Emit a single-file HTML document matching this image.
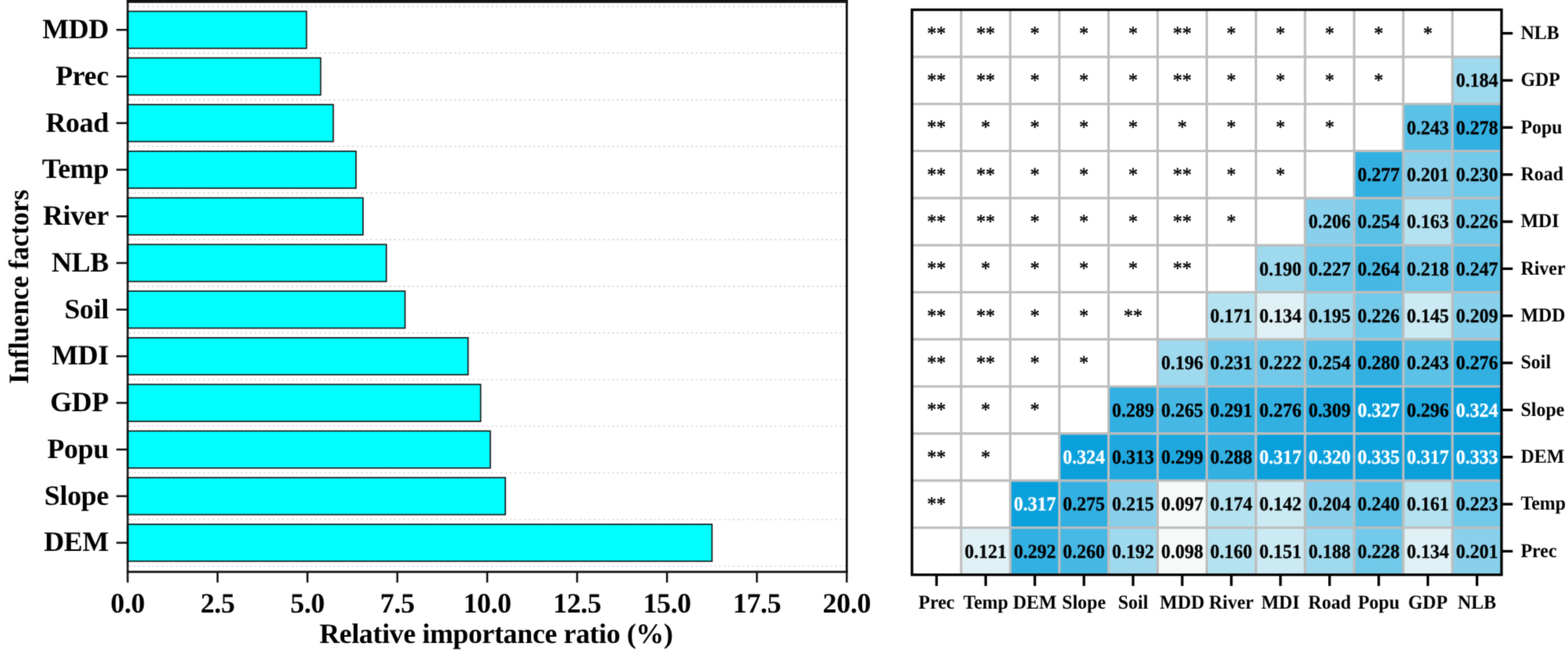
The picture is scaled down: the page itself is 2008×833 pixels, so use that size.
<!DOCTYPE html>
<html lang="en">
<head>
<meta charset="utf-8">
<title>Relative importance ratio and interaction of influence factors</title>
<style>
html, body { margin: 0; padding: 0; background: #ffffff; }
body { width: 2008px; height: 833px; overflow: hidden; }
svg { display: block; }
text { text-rendering: geometricPrecision; }
</style>
</head>
<body>
<svg width="2008" height="833" viewBox="0 0 2008 833">
<defs><filter id="soft" x="0" y="0" width="2008" height="833" filterUnits="userSpaceOnUse" color-interpolation-filters="sRGB"><feConvolveMatrix order="3" kernelMatrix="1 4 1 4 20 4 1 4 1" divisor="40" bias="0" edgeMode="duplicate" preserveAlpha="true"/></filter></defs>
<g filter="url(#soft)">
<rect x="-20" y="-20" width="2048" height="873" fill="#ffffff"/>
<g stroke="#dadada" stroke-width="1.6" stroke-dasharray="2.6 3.35" fill="none">
<line x1="165.00" y1="8.35" x2="1082.90" y2="8.35"/>
<line x1="165.00" y1="68.11" x2="1082.90" y2="68.11"/>
<line x1="165.00" y1="127.87" x2="1082.90" y2="127.87"/>
<line x1="165.00" y1="187.63" x2="1082.90" y2="187.63"/>
<line x1="165.00" y1="247.39" x2="1082.90" y2="247.39"/>
<line x1="165.00" y1="307.15" x2="1082.90" y2="307.15"/>
<line x1="165.00" y1="366.91" x2="1082.90" y2="366.91"/>
<line x1="165.00" y1="426.67" x2="1082.90" y2="426.67"/>
<line x1="165.00" y1="486.43" x2="1082.90" y2="486.43"/>
<line x1="165.00" y1="546.19" x2="1082.90" y2="546.19"/>
<line x1="165.00" y1="605.95" x2="1082.90" y2="605.95"/>
<line x1="165.00" y1="665.71" x2="1082.90" y2="665.71"/>
<line x1="165.00" y1="725.47" x2="1082.90" y2="725.47"/>
</g>
<g fill="#00ffff" stroke="#1c1c1c" stroke-width="1.7" stroke-linejoin="miter">
<rect x="163.50" y="14.53" width="229.05" height="47.40"/>
<rect x="163.50" y="74.29" width="247.15" height="47.40"/>
<rect x="163.50" y="134.05" width="263.25" height="47.40"/>
<rect x="163.50" y="193.81" width="292.35" height="47.40"/>
<rect x="163.50" y="253.57" width="301.35" height="47.40"/>
<rect x="163.50" y="313.33" width="331.25" height="47.40"/>
<rect x="163.50" y="373.09" width="355.15" height="47.40"/>
<rect x="163.50" y="432.85" width="435.95" height="47.40"/>
<rect x="163.50" y="492.61" width="452.05" height="47.40"/>
<rect x="163.50" y="552.37" width="464.35" height="47.40"/>
<rect x="163.50" y="612.13" width="483.65" height="47.40"/>
<rect x="163.50" y="671.89" width="748.25" height="47.40"/>
</g>
<g stroke="#111111" fill="none" stroke-linecap="butt">
<line x1="162.25" y1="1.9" x2="1085.8000000000002" y2="1.9" stroke-width="3.8"/>
<line x1="162.25" y1="732.8" x2="1085.8000000000002" y2="732.8" stroke-width="2.7"/>
<line x1="163.5" y1="1" x2="163.5" y2="732.8" stroke-width="2.5"/>
<line x1="1084.4" y1="1" x2="1084.4" y2="732.8" stroke-width="2.8"/>
</g>
<g stroke="#111111" stroke-width="2.5" fill="none">
<line x1="149" y1="38.23" x2="163.5" y2="38.23"/>
<line x1="149" y1="97.99" x2="163.5" y2="97.99"/>
<line x1="149" y1="157.75" x2="163.5" y2="157.75"/>
<line x1="149" y1="217.51" x2="163.5" y2="217.51"/>
<line x1="149" y1="277.27" x2="163.5" y2="277.27"/>
<line x1="149" y1="337.03" x2="163.5" y2="337.03"/>
<line x1="149" y1="396.79" x2="163.5" y2="396.79"/>
<line x1="149" y1="456.55" x2="163.5" y2="456.55"/>
<line x1="149" y1="516.31" x2="163.5" y2="516.31"/>
<line x1="149" y1="576.07" x2="163.5" y2="576.07"/>
<line x1="149" y1="635.83" x2="163.5" y2="635.83"/>
<line x1="149" y1="695.59" x2="163.5" y2="695.59"/>
<line x1="163.50" y1="732.8" x2="163.50" y2="746.6"/>
<line x1="278.61" y1="732.8" x2="278.61" y2="746.6"/>
<line x1="393.73" y1="732.8" x2="393.73" y2="746.6"/>
<line x1="508.84" y1="732.8" x2="508.84" y2="746.6"/>
<line x1="623.95" y1="732.8" x2="623.95" y2="746.6"/>
<line x1="739.06" y1="732.8" x2="739.06" y2="746.6"/>
<line x1="854.18" y1="732.8" x2="854.18" y2="746.6"/>
<line x1="969.29" y1="732.8" x2="969.29" y2="746.6"/>
<line x1="1084.40" y1="732.8" x2="1084.40" y2="746.6"/>
</g>
<g font-family="'Liberation Serif', serif" font-weight="bold" fill="#000000" letter-spacing="-0.35">
<g font-size="36" text-anchor="end">
<text x="139.1" y="49.03">MDD</text>
<text x="139.1" y="108.79">Prec</text>
<text x="139.1" y="168.55">Road</text>
<text x="139.1" y="228.31">Temp</text>
<text x="139.1" y="288.07">River</text>
<text x="139.1" y="347.83">NLB</text>
<text x="139.1" y="407.59">Soil</text>
<text x="139.1" y="467.35">MDI</text>
<text x="139.1" y="527.11">GDP</text>
<text x="139.1" y="586.87">Popu</text>
<text x="139.1" y="646.63">Slope</text>
<text x="139.1" y="706.39">DEM</text>
</g>
<g font-size="36" text-anchor="middle">
<text x="163.50" y="784.8">0.0</text>
<text x="278.61" y="784.8">2.5</text>
<text x="393.73" y="784.8">5.0</text>
<text x="508.84" y="784.8">7.5</text>
<text x="623.95" y="784.8">10.0</text>
<text x="739.06" y="784.8">12.5</text>
<text x="854.18" y="784.8">15.0</text>
<text x="969.29" y="784.8">17.5</text>
<text x="1084.40" y="784.8">20.0</text>
</g>
<text x="635.3" y="823.9" font-size="36" text-anchor="middle">Relative importance ratio (%)</text>
<text transform="translate(36.0 367.6) rotate(-90)" font-size="36" text-anchor="middle" letter-spacing="0" textLength="249" lengthAdjust="spacingAndGlyphs">Influence factors</text>
</g>
<g shape-rendering="crispEdges">
<rect x="1859.98" y="72.84" width="62.92" height="60.34" fill="#9fd9ee"/>
<rect x="1797.07" y="133.18" width="62.92" height="60.34" fill="#5cc1e7"/>
<rect x="1859.98" y="133.18" width="62.92" height="60.34" fill="#33b0e2"/>
<rect x="1734.15" y="193.53" width="62.92" height="60.34" fill="#33b0e2"/>
<rect x="1797.07" y="193.53" width="62.92" height="60.34" fill="#88d0eb"/>
<rect x="1859.98" y="193.53" width="62.92" height="60.34" fill="#72c9e9"/>
<rect x="1671.23" y="253.87" width="62.92" height="60.34" fill="#88d0eb"/>
<rect x="1734.15" y="253.87" width="62.92" height="60.34" fill="#5cc1e7"/>
<rect x="1797.07" y="253.87" width="62.92" height="60.34" fill="#b5e2f0"/>
<rect x="1859.98" y="253.87" width="62.92" height="60.34" fill="#72c9e9"/>
<rect x="1608.32" y="314.21" width="62.92" height="60.34" fill="#9fd9ee"/>
<rect x="1671.23" y="314.21" width="62.92" height="60.34" fill="#72c9e9"/>
<rect x="1734.15" y="314.21" width="62.92" height="60.34" fill="#47b8e4"/>
<rect x="1797.07" y="314.21" width="62.92" height="60.34" fill="#72c9e9"/>
<rect x="1859.98" y="314.21" width="62.92" height="60.34" fill="#5cc1e7"/>
<rect x="1545.40" y="374.55" width="62.92" height="60.34" fill="#b5e2f0"/>
<rect x="1608.32" y="374.55" width="62.92" height="60.34" fill="#dff1f5"/>
<rect x="1671.23" y="374.55" width="62.92" height="60.34" fill="#9fd9ee"/>
<rect x="1734.15" y="374.55" width="62.92" height="60.34" fill="#72c9e9"/>
<rect x="1797.07" y="374.55" width="62.92" height="60.34" fill="#cbeaf3"/>
<rect x="1859.98" y="374.55" width="62.92" height="60.34" fill="#88d0eb"/>
<rect x="1482.48" y="434.89" width="62.92" height="60.34" fill="#9fd9ee"/>
<rect x="1545.40" y="434.89" width="62.92" height="60.34" fill="#72c9e9"/>
<rect x="1608.32" y="434.89" width="62.92" height="60.34" fill="#72c9e9"/>
<rect x="1671.23" y="434.89" width="62.92" height="60.34" fill="#5cc1e7"/>
<rect x="1734.15" y="434.89" width="62.92" height="60.34" fill="#33b0e2"/>
<rect x="1797.07" y="434.89" width="62.92" height="60.34" fill="#5cc1e7"/>
<rect x="1859.98" y="434.89" width="62.92" height="60.34" fill="#33b0e2"/>
<rect x="1419.57" y="495.23" width="62.92" height="60.34" fill="#33b0e2"/>
<rect x="1482.48" y="495.23" width="62.92" height="60.34" fill="#47b8e4"/>
<rect x="1545.40" y="495.23" width="62.92" height="60.34" fill="#33b0e2"/>
<rect x="1608.32" y="495.23" width="62.92" height="60.34" fill="#33b0e2"/>
<rect x="1671.23" y="495.23" width="62.92" height="60.34" fill="#1ea8df"/>
<rect x="1734.15" y="495.23" width="62.92" height="60.34" fill="#0aa0dc"/>
<rect x="1797.07" y="495.23" width="62.92" height="60.34" fill="#1ea8df"/>
<rect x="1859.98" y="495.23" width="62.92" height="60.34" fill="#0aa0dc"/>
<rect x="1356.65" y="555.58" width="62.92" height="60.34" fill="#0aa0dc"/>
<rect x="1419.57" y="555.58" width="62.92" height="60.34" fill="#1ea8df"/>
<rect x="1482.48" y="555.58" width="62.92" height="60.34" fill="#1ea8df"/>
<rect x="1545.40" y="555.58" width="62.92" height="60.34" fill="#33b0e2"/>
<rect x="1608.32" y="555.58" width="62.92" height="60.34" fill="#0aa0dc"/>
<rect x="1671.23" y="555.58" width="62.92" height="60.34" fill="#0aa0dc"/>
<rect x="1734.15" y="555.58" width="62.92" height="60.34" fill="#0aa0dc"/>
<rect x="1797.07" y="555.58" width="62.92" height="60.34" fill="#0aa0dc"/>
<rect x="1859.98" y="555.58" width="62.92" height="60.34" fill="#0aa0dc"/>
<rect x="1293.73" y="615.92" width="62.92" height="60.34" fill="#0aa0dc"/>
<rect x="1356.65" y="615.92" width="62.92" height="60.34" fill="#33b0e2"/>
<rect x="1419.57" y="615.92" width="62.92" height="60.34" fill="#88d0eb"/>
<rect x="1482.48" y="615.92" width="62.92" height="60.34" fill="#f5f9f7"/>
<rect x="1545.40" y="615.92" width="62.92" height="60.34" fill="#b5e2f0"/>
<rect x="1608.32" y="615.92" width="62.92" height="60.34" fill="#cbeaf3"/>
<rect x="1671.23" y="615.92" width="62.92" height="60.34" fill="#88d0eb"/>
<rect x="1734.15" y="615.92" width="62.92" height="60.34" fill="#5cc1e7"/>
<rect x="1797.07" y="615.92" width="62.92" height="60.34" fill="#b5e2f0"/>
<rect x="1859.98" y="615.92" width="62.92" height="60.34" fill="#72c9e9"/>
<rect x="1230.82" y="676.26" width="62.92" height="60.34" fill="#dff1f5"/>
<rect x="1293.73" y="676.26" width="62.92" height="60.34" fill="#33b0e2"/>
<rect x="1356.65" y="676.26" width="62.92" height="60.34" fill="#47b8e4"/>
<rect x="1419.57" y="676.26" width="62.92" height="60.34" fill="#9fd9ee"/>
<rect x="1482.48" y="676.26" width="62.92" height="60.34" fill="#f5f9f7"/>
<rect x="1545.40" y="676.26" width="62.92" height="60.34" fill="#b5e2f0"/>
<rect x="1608.32" y="676.26" width="62.92" height="60.34" fill="#cbeaf3"/>
<rect x="1671.23" y="676.26" width="62.92" height="60.34" fill="#9fd9ee"/>
<rect x="1734.15" y="676.26" width="62.92" height="60.34" fill="#72c9e9"/>
<rect x="1797.07" y="676.26" width="62.92" height="60.34" fill="#dff1f5"/>
<rect x="1859.98" y="676.26" width="62.92" height="60.34" fill="#88d0eb"/>
</g>
<g stroke="#bdbdbd" stroke-width="3.1" fill="none">
<line x1="1230.82" y1="12.5" x2="1230.82" y2="736.6"/>
<line x1="1167.9" y1="72.84" x2="1922.9" y2="72.84"/>
<line x1="1293.73" y1="12.5" x2="1293.73" y2="736.6"/>
<line x1="1167.9" y1="133.18" x2="1922.9" y2="133.18"/>
<line x1="1356.65" y1="12.5" x2="1356.65" y2="736.6"/>
<line x1="1167.9" y1="193.53" x2="1922.9" y2="193.53"/>
<line x1="1419.57" y1="12.5" x2="1419.57" y2="736.6"/>
<line x1="1167.9" y1="253.87" x2="1922.9" y2="253.87"/>
<line x1="1482.48" y1="12.5" x2="1482.48" y2="736.6"/>
<line x1="1167.9" y1="314.21" x2="1922.9" y2="314.21"/>
<line x1="1545.40" y1="12.5" x2="1545.40" y2="736.6"/>
<line x1="1167.9" y1="374.55" x2="1922.9" y2="374.55"/>
<line x1="1608.32" y1="12.5" x2="1608.32" y2="736.6"/>
<line x1="1167.9" y1="434.89" x2="1922.9" y2="434.89"/>
<line x1="1671.23" y1="12.5" x2="1671.23" y2="736.6"/>
<line x1="1167.9" y1="495.23" x2="1922.9" y2="495.23"/>
<line x1="1734.15" y1="12.5" x2="1734.15" y2="736.6"/>
<line x1="1167.9" y1="555.58" x2="1922.9" y2="555.58"/>
<line x1="1797.07" y1="12.5" x2="1797.07" y2="736.6"/>
<line x1="1167.9" y1="615.92" x2="1922.9" y2="615.92"/>
<line x1="1859.98" y1="12.5" x2="1859.98" y2="736.6"/>
<line x1="1167.9" y1="676.26" x2="1922.9" y2="676.26"/>
</g>
<rect x="1167.9" y="12.5" width="755.0" height="724.1" fill="none" stroke="#000000" stroke-width="3.3"/>
<g stroke="#000000" stroke-width="3.3" fill="none">
<line x1="1199.36" y1="736.6" x2="1199.36" y2="750.9"/>
<line x1="1922.9" y1="42.67" x2="1937.2" y2="42.67"/>
<line x1="1262.28" y1="736.6" x2="1262.28" y2="750.9"/>
<line x1="1922.9" y1="103.01" x2="1937.2" y2="103.01"/>
<line x1="1325.19" y1="736.6" x2="1325.19" y2="750.9"/>
<line x1="1922.9" y1="163.35" x2="1937.2" y2="163.35"/>
<line x1="1388.11" y1="736.6" x2="1388.11" y2="750.9"/>
<line x1="1922.9" y1="223.70" x2="1937.2" y2="223.70"/>
<line x1="1451.03" y1="736.6" x2="1451.03" y2="750.9"/>
<line x1="1922.9" y1="284.04" x2="1937.2" y2="284.04"/>
<line x1="1513.94" y1="736.6" x2="1513.94" y2="750.9"/>
<line x1="1922.9" y1="344.38" x2="1937.2" y2="344.38"/>
<line x1="1576.86" y1="736.6" x2="1576.86" y2="750.9"/>
<line x1="1922.9" y1="404.72" x2="1937.2" y2="404.72"/>
<line x1="1639.78" y1="736.6" x2="1639.78" y2="750.9"/>
<line x1="1922.9" y1="465.06" x2="1937.2" y2="465.06"/>
<line x1="1702.69" y1="736.6" x2="1702.69" y2="750.9"/>
<line x1="1922.9" y1="525.40" x2="1937.2" y2="525.40"/>
<line x1="1765.61" y1="736.6" x2="1765.61" y2="750.9"/>
<line x1="1922.9" y1="585.75" x2="1937.2" y2="585.75"/>
<line x1="1828.53" y1="736.6" x2="1828.53" y2="750.9"/>
<line x1="1922.9" y1="646.09" x2="1937.2" y2="646.09"/>
<line x1="1891.44" y1="736.6" x2="1891.44" y2="750.9"/>
<line x1="1922.9" y1="706.43" x2="1937.2" y2="706.43"/>
</g>
<g font-family="'Liberation Serif', serif" fill="#000000" font-size="25.2" transform="scale(0.952 1)">
<g font-weight="bold" text-anchor="middle" stroke="#000000" stroke-width="0.3">
<text x="1986.81" y="111.31">0.184</text>
<text x="1920.72" y="171.65">0.243</text>
<text x="1986.81" y="171.65">0.278</text>
<text x="1854.63" y="232.00">0.277</text>
<text x="1920.72" y="232.00">0.201</text>
<text x="1986.81" y="232.00">0.230</text>
<text x="1788.54" y="292.34">0.206</text>
<text x="1854.63" y="292.34">0.254</text>
<text x="1920.72" y="292.34">0.163</text>
<text x="1986.81" y="292.34">0.226</text>
<text x="1722.45" y="352.68">0.190</text>
<text x="1788.54" y="352.68">0.227</text>
<text x="1854.63" y="352.68">0.264</text>
<text x="1920.72" y="352.68">0.218</text>
<text x="1986.81" y="352.68">0.247</text>
<text x="1656.36" y="413.02">0.171</text>
<text x="1722.45" y="413.02">0.134</text>
<text x="1788.54" y="413.02">0.195</text>
<text x="1854.63" y="413.02">0.226</text>
<text x="1920.72" y="413.02">0.145</text>
<text x="1986.81" y="413.02">0.209</text>
<text x="1590.27" y="473.36">0.196</text>
<text x="1656.36" y="473.36">0.231</text>
<text x="1722.45" y="473.36">0.222</text>
<text x="1788.54" y="473.36">0.254</text>
<text x="1854.63" y="473.36">0.280</text>
<text x="1920.72" y="473.36">0.243</text>
<text x="1986.81" y="473.36">0.276</text>
<text x="1524.19" y="533.70">0.289</text>
<text x="1590.27" y="533.70">0.265</text>
<text x="1656.36" y="533.70">0.291</text>
<text x="1722.45" y="533.70">0.276</text>
<text x="1788.54" y="533.70">0.309</text>
<text x="1854.63" y="533.70" fill="#ffffff" stroke="#ffffff">0.327</text>
<text x="1920.72" y="533.70">0.296</text>
<text x="1986.81" y="533.70" fill="#ffffff" stroke="#ffffff">0.324</text>
<text x="1458.10" y="594.05" fill="#ffffff" stroke="#ffffff">0.324</text>
<text x="1524.19" y="594.05">0.313</text>
<text x="1590.27" y="594.05">0.299</text>
<text x="1656.36" y="594.05">0.288</text>
<text x="1722.45" y="594.05" fill="#ffffff" stroke="#ffffff">0.317</text>
<text x="1788.54" y="594.05" fill="#ffffff" stroke="#ffffff">0.320</text>
<text x="1854.63" y="594.05" fill="#ffffff" stroke="#ffffff">0.335</text>
<text x="1920.72" y="594.05" fill="#ffffff" stroke="#ffffff">0.317</text>
<text x="1986.81" y="594.05" fill="#ffffff" stroke="#ffffff">0.333</text>
<text x="1392.01" y="654.39" fill="#ffffff" stroke="#ffffff">0.317</text>
<text x="1458.10" y="654.39">0.275</text>
<text x="1524.19" y="654.39">0.215</text>
<text x="1590.27" y="654.39">0.097</text>
<text x="1656.36" y="654.39">0.174</text>
<text x="1722.45" y="654.39">0.142</text>
<text x="1788.54" y="654.39">0.204</text>
<text x="1854.63" y="654.39">0.240</text>
<text x="1920.72" y="654.39">0.161</text>
<text x="1986.81" y="654.39">0.223</text>
<text x="1325.92" y="714.73">0.121</text>
<text x="1392.01" y="714.73">0.292</text>
<text x="1458.10" y="714.73">0.260</text>
<text x="1524.19" y="714.73">0.192</text>
<text x="1590.27" y="714.73">0.098</text>
<text x="1656.36" y="714.73">0.160</text>
<text x="1722.45" y="714.73">0.151</text>
<text x="1788.54" y="714.73">0.188</text>
<text x="1854.63" y="714.73">0.228</text>
<text x="1920.72" y="714.73">0.134</text>
<text x="1986.81" y="714.73">0.201</text>
</g>
<g text-anchor="middle" stroke="#000000" stroke-width="0.5">
<text x="1259.83" y="50.57">**</text>
<text x="1325.92" y="50.57">**</text>
<text x="1392.01" y="50.57">*</text>
<text x="1458.10" y="50.57">*</text>
<text x="1524.19" y="50.57">*</text>
<text x="1590.27" y="50.57">**</text>
<text x="1656.36" y="50.57">*</text>
<text x="1722.45" y="50.57">*</text>
<text x="1788.54" y="50.57">*</text>
<text x="1854.63" y="50.57">*</text>
<text x="1920.72" y="50.57">*</text>
<text x="1259.83" y="110.91">**</text>
<text x="1325.92" y="110.91">**</text>
<text x="1392.01" y="110.91">*</text>
<text x="1458.10" y="110.91">*</text>
<text x="1524.19" y="110.91">*</text>
<text x="1590.27" y="110.91">**</text>
<text x="1656.36" y="110.91">*</text>
<text x="1722.45" y="110.91">*</text>
<text x="1788.54" y="110.91">*</text>
<text x="1854.63" y="110.91">*</text>
<text x="1259.83" y="171.25">**</text>
<text x="1325.92" y="171.25">*</text>
<text x="1392.01" y="171.25">*</text>
<text x="1458.10" y="171.25">*</text>
<text x="1524.19" y="171.25">*</text>
<text x="1590.27" y="171.25">*</text>
<text x="1656.36" y="171.25">*</text>
<text x="1722.45" y="171.25">*</text>
<text x="1788.54" y="171.25">*</text>
<text x="1259.83" y="231.60">**</text>
<text x="1325.92" y="231.60">**</text>
<text x="1392.01" y="231.60">*</text>
<text x="1458.10" y="231.60">*</text>
<text x="1524.19" y="231.60">*</text>
<text x="1590.27" y="231.60">**</text>
<text x="1656.36" y="231.60">*</text>
<text x="1722.45" y="231.60">*</text>
<text x="1259.83" y="291.94">**</text>
<text x="1325.92" y="291.94">**</text>
<text x="1392.01" y="291.94">*</text>
<text x="1458.10" y="291.94">*</text>
<text x="1524.19" y="291.94">*</text>
<text x="1590.27" y="291.94">**</text>
<text x="1656.36" y="291.94">*</text>
<text x="1259.83" y="352.28">**</text>
<text x="1325.92" y="352.28">*</text>
<text x="1392.01" y="352.28">*</text>
<text x="1458.10" y="352.28">*</text>
<text x="1524.19" y="352.28">*</text>
<text x="1590.27" y="352.28">**</text>
<text x="1259.83" y="412.62">**</text>
<text x="1325.92" y="412.62">**</text>
<text x="1392.01" y="412.62">*</text>
<text x="1458.10" y="412.62">*</text>
<text x="1524.19" y="412.62">**</text>
<text x="1259.83" y="472.96">**</text>
<text x="1325.92" y="472.96">**</text>
<text x="1392.01" y="472.96">*</text>
<text x="1458.10" y="472.96">*</text>
<text x="1259.83" y="533.30">**</text>
<text x="1325.92" y="533.30">*</text>
<text x="1392.01" y="533.30">*</text>
<text x="1259.83" y="593.65">**</text>
<text x="1325.92" y="593.65">*</text>
<text x="1259.83" y="653.99">**</text>
</g>
<g font-weight="bold" text-anchor="middle">
<text x="1259.83" y="779.6">Prec</text>
<text x="1325.92" y="779.6">Temp</text>
<text x="1392.01" y="779.6">DEM</text>
<text x="1458.10" y="779.6">Slope</text>
<text x="1524.19" y="779.6">Soil</text>
<text x="1590.27" y="779.6">MDD</text>
<text x="1656.36" y="779.6">River</text>
<text x="1722.45" y="779.6">MDI</text>
<text x="1788.54" y="779.6">Road</text>
<text x="1854.63" y="779.6">Popu</text>
<text x="1920.72" y="779.6">GDP</text>
<text x="1986.81" y="779.6">NLB</text>
</g>
<g font-weight="bold" text-anchor="start">
<text x="2045.59" y="50.07">NLB</text>
<text x="2045.59" y="110.41">GDP</text>
<text x="2045.59" y="170.75">Popu</text>
<text x="2045.59" y="231.10">Road</text>
<text x="2045.59" y="291.44">MDI</text>
<text x="2045.59" y="351.78">River</text>
<text x="2045.59" y="412.12">MDD</text>
<text x="2045.59" y="472.46">Soil</text>
<text x="2045.59" y="532.80">Slope</text>
<text x="2045.59" y="593.15">DEM</text>
<text x="2045.59" y="653.49">Temp</text>
<text x="2045.59" y="713.83">Prec</text>
</g>
</g>
</g>
</svg>
</body>
</html>
